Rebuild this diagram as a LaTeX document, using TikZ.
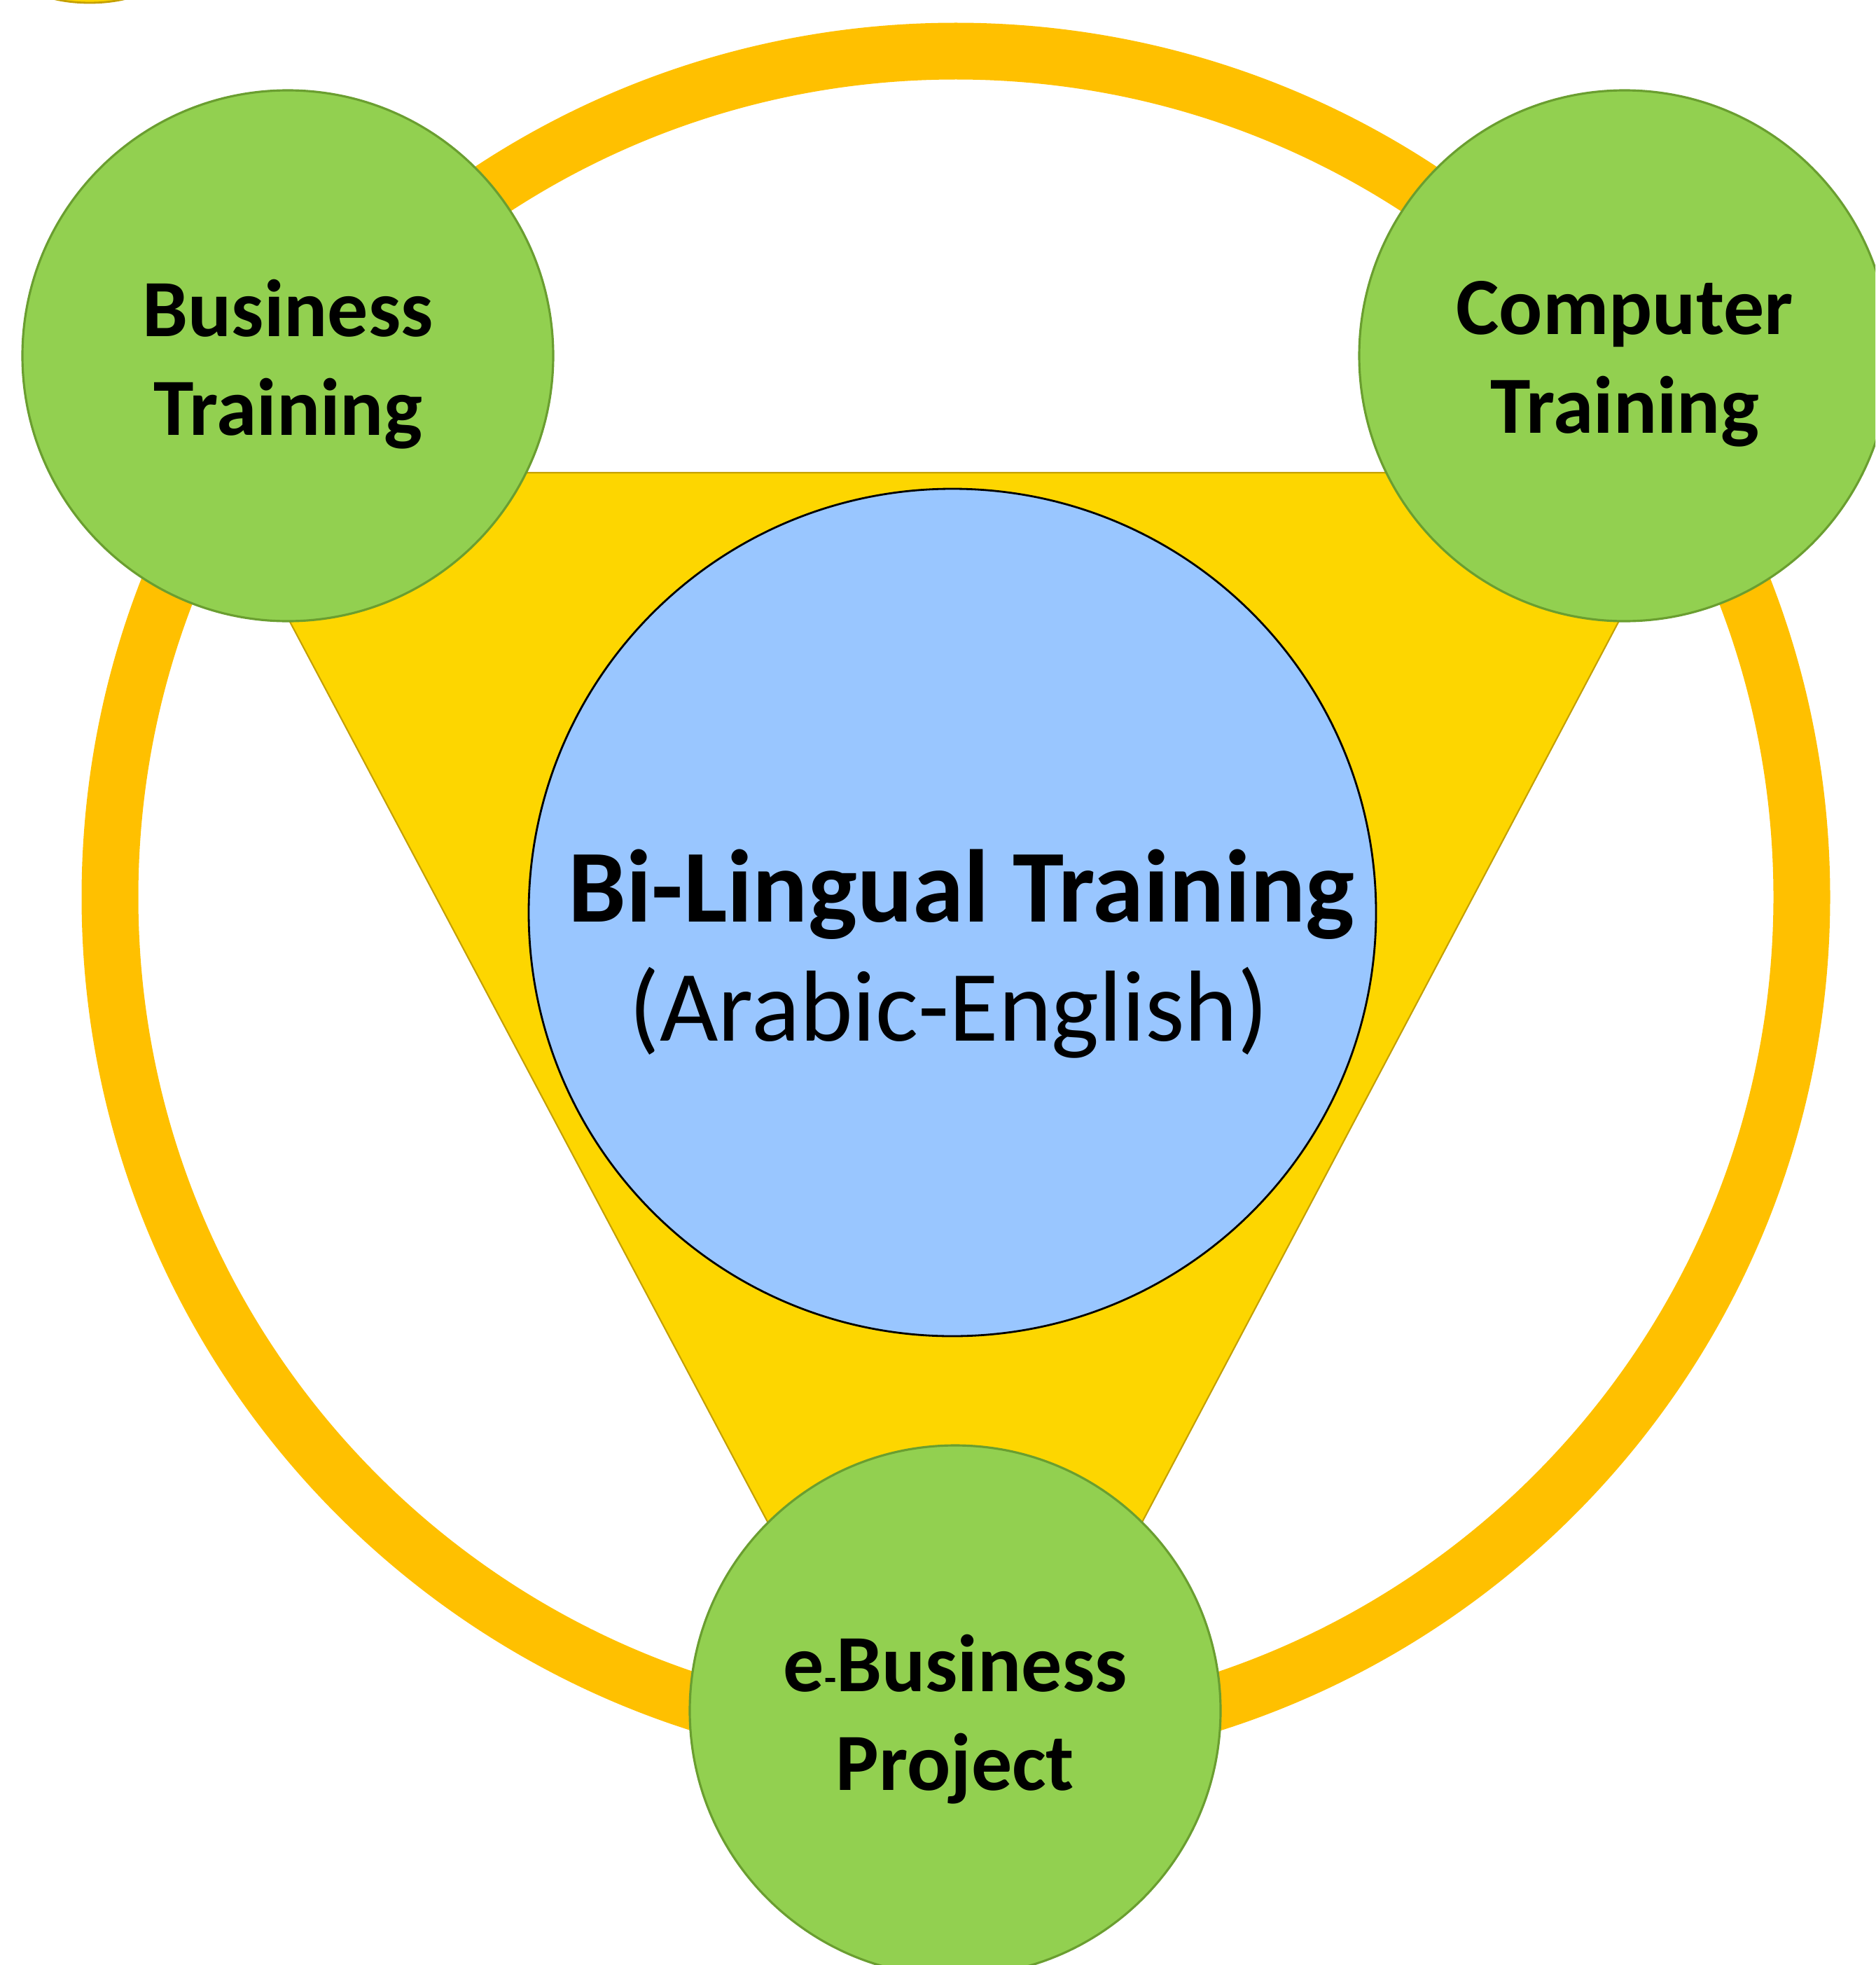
\documentclass[tikz,border=0pt]{standalone}
\usepackage{fontspec}
\setmainfont{Carlito}

\definecolor{ringgold}{HTML}{FFC000}
\definecolor{trifill}{HTML}{FDD600}
\definecolor{triline}{HTML}{C4A000}
\definecolor{topicgreen}{HTML}{92D050}
\definecolor{topicline}{HTML}{6A9E30}
\definecolor{corefill}{HTML}{99C6FF}

\tikzset{
  topic/.style={circle, fill=topicgreen, draw=topicline, line width=0.9pt,
    minimum size=7.58cm, inner sep=0pt},
  topiclabel/.style={align=center, yshift=-0.12cm,
    font=\fontsize{33}{40}\selectfont\bfseries},
  core/.style={circle, fill=corefill, draw=black, line width=0.8pt,
    minimum size=12.1cm, inner sep=0pt},
}

\begin{document}
\begin{tikzpicture}[x=1cm,y=-1cm]
\useasboundingbox (0,0) rectangle (26.78,28.06);
\clip (0,0) rectangle (26.78,28.06);

% ring
\draw[ringgold, line width=0.81cm] (13.65,12.81) circle (12.08);

% small ellipse, top left
\draw[fill=trifill, draw=triline, line width=0.8pt] (1.28,-0.36) ellipse (1.0 and 0.4);

% triangle
\draw[fill=trifill, draw=triline, line width=0.6pt]
  (3.01,6.75) -- (24.24,6.75) -- (13.64,26.78) -- cycle;

% centre
\node[core] (core) at (13.60,13.03) {};
\node[anchor=base, font=\fontsize{42}{48}\selectfont\bfseries] (bilingual) at (13.73,13.16) {Bi-Lingual Training};
\node[anchor=base, font=\fontsize{41}{48}\selectfont] (arabeng) at (13.55,14.86) {(Arabic-English)};

% topics
\node[topic, label={[topiclabel]center:{Business\\Training}}] (business) at (4.11,5.08) {};
\node[topic, label={[topiclabel]center:{Computer\\Training}}] (computer) at (23.20,5.08) {};
\node[topic, label={[topiclabel]center:{e{\fontsize{16}{16}\selectfont -}Business\\Project}}] (ebusiness) at (13.64,24.43) {};
\end{tikzpicture}
\end{document}
